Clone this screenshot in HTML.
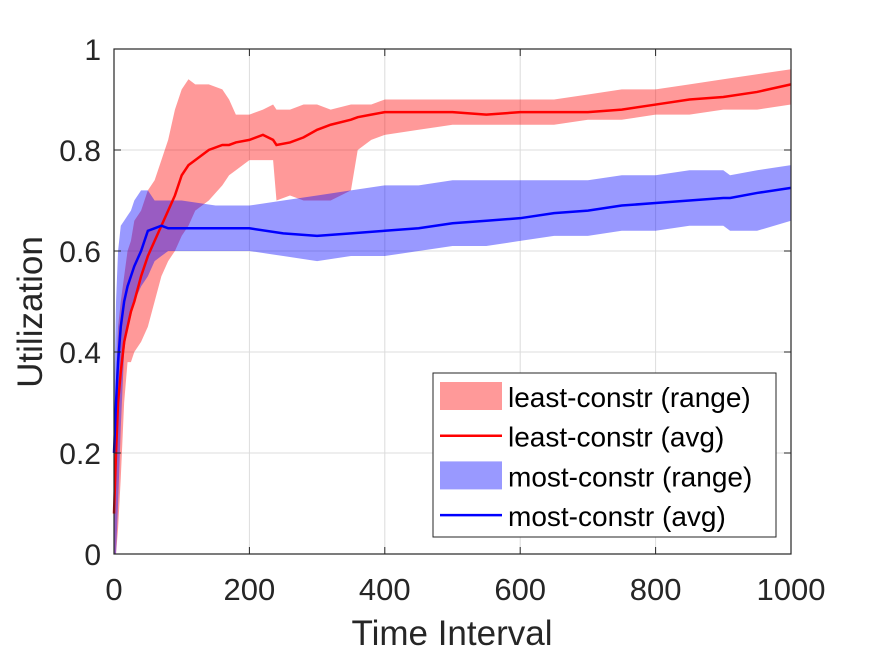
<!DOCTYPE html>
<html><head><meta charset="utf-8">
<style>
body{margin:0;background:#fff;}
svg{display:block;font-family:"Liberation Sans",sans-serif;}
</style></head>
<body>
<svg id="chart" width="875" height="656"></svg>
<script>
const tRed=[0,3,6,10,15,20,25,30,40,50,60,70,80,90,100,110,120,140,160,170,180,200,220,235,240,260,280,300,320,350,360,380,400,450,500,550,600,650,700,750,800,850,900,950,1000];
const redAvg=[0.08,0.2,0.3,0.36,0.42,0.45,0.48,0.5,0.55,0.59,0.62,0.65,0.68,0.71,0.75,0.77,0.78,0.8,0.81,0.81,0.815,0.82,0.83,0.82,0.81,0.815,0.825,0.84,0.85,0.86,0.865,0.87,0.875,0.875,0.875,0.87,0.875,0.875,0.875,0.88,0.89,0.9,0.905,0.915,0.93];
const redLo=[0,0,0.05,0.15,0.3,0.38,0.38,0.4,0.42,0.45,0.5,0.55,0.58,0.6,0.63,0.65,0.68,0.7,0.73,0.75,0.76,0.78,0.78,0.78,0.7,0.71,0.7,0.7,0.7,0.72,0.8,0.82,0.83,0.84,0.85,0.85,0.85,0.85,0.86,0.86,0.87,0.87,0.88,0.88,0.89];
const redHi=[0.2,0.35,0.45,0.5,0.55,0.6,0.62,0.66,0.68,0.72,0.74,0.78,0.82,0.88,0.92,0.94,0.93,0.93,0.92,0.9,0.87,0.87,0.88,0.89,0.88,0.88,0.89,0.89,0.88,0.89,0.89,0.89,0.9,0.9,0.9,0.9,0.9,0.9,0.91,0.92,0.92,0.93,0.94,0.95,0.96];
const tBlue=[0,3,6,10,15,20,25,30,40,50,60,70,80,100,150,200,250,300,350,400,450,500,550,600,650,700,750,800,850,900,910,950,1000];
const blueAvg=[0.2,0.3,0.38,0.45,0.5,0.53,0.55,0.57,0.6,0.64,0.645,0.65,0.645,0.645,0.645,0.645,0.635,0.63,0.635,0.64,0.645,0.655,0.66,0.665,0.675,0.68,0.69,0.695,0.7,0.705,0.705,0.715,0.725];
const blueLo=[0,0,0.1,0.25,0.4,0.45,0.47,0.5,0.53,0.55,0.58,0.59,0.6,0.6,0.6,0.6,0.59,0.58,0.59,0.59,0.6,0.61,0.61,0.62,0.63,0.63,0.64,0.64,0.65,0.65,0.64,0.64,0.66];
const blueHi=[0.3,0.5,0.6,0.65,0.66,0.67,0.68,0.7,0.72,0.72,0.7,0.7,0.7,0.7,0.69,0.69,0.7,0.71,0.72,0.73,0.73,0.74,0.74,0.74,0.74,0.74,0.75,0.75,0.76,0.76,0.75,0.76,0.77];
const xTicks=[0,200,400,600,800,1000];
const yTicks=[0,0.2,0.4,0.6,0.8,1];
const yTickLabels=["0","0.2","0.4","0.6","0.8","1"];

const X0=114,X1=791,Y0=554,Y1=49;
const xs=v=>X0+(X1-X0)*v/1000;
const ys=v=>Y0-(Y0-Y1)*v;
const NS="http://www.w3.org/2000/svg";
const svg=document.getElementById('chart');
function mk(tag,attrs,parent){const e=document.createElementNS(NS,tag);for(const k in attrs)e.setAttribute(k,attrs[k]);(parent||svg).appendChild(e);return e;}

const bg=mk('rect',{x:X0,y:Y1,width:X1-X0,height:Y0-Y1,fill:'#fff'});


xTicks.forEach(t=>{const l=mk('line',{x1:xs(t),x2:xs(t),y1:Y1,y2:Y0,stroke:'#dcdcdc','stroke-width':1});

});
yTicks.forEach(t=>{const l=mk('line',{x1:X0,x2:X1,y1:ys(t),y2:ys(t),stroke:'#dcdcdc','stroke-width':1});

});

function band(t,lo,hi,color,name){
  let d='M'+t.map((v,i)=>xs(v)+','+ys(hi[i])).join('L');
  for(let i=t.length-1;i>=0;i--)d+='L'+xs(t[i])+','+ys(lo[i]);
  const p=mk('path',{d:d+'Z',fill:color,'fill-opacity':0.4,stroke:'none'});
  
  
}
function line(t,v,color,name){
  const p=mk('path',{d:'M'+t.map((x,i)=>xs(x)+','+ys(v[i])).join('L'),fill:'none',stroke:color,'stroke-width':2.5});
  
  
}
band(tRed,redLo,redHi,'#ff0000','least-constr-range');
band(tBlue,blueLo,blueHi,'#0000ff','most-constr-range');
line(tRed,redAvg,'#ff0000','least-constr-avg-line');
line(tBlue,blueAvg,'#0000ff','most-constr-avg-line');

const fr=mk('rect',{x:X0,y:Y1,width:X1-X0,height:Y0-Y1,fill:'none',stroke:'#262626','stroke-width':1.2});


xTicks.forEach(t=>{
  mk('line',{x1:xs(t),x2:xs(t),y1:Y0,y2:Y0-7,stroke:'#262626'});
  mk('line',{x1:xs(t),x2:xs(t),y1:Y1,y2:Y1+7,stroke:'#262626'});
  const tx=mk('text',{x:xs(t),y:600,'text-anchor':'middle','font-size':31,fill:'#262626'});
  tx.textContent=String(t);
  
  
});
yTicks.forEach((t,i)=>{
  mk('line',{x1:X0,x2:X0+7,y1:ys(t),y2:ys(t),stroke:'#262626'});
  mk('line',{x1:X1,x2:X1-7,y1:ys(t),y2:ys(t),stroke:'#262626'});
  const tx=mk('text',{x:101,y:ys(t)+11,'text-anchor':'end','font-size':30,fill:'#262626'});
  tx.textContent=yTickLabels[i];
  
  
});
const xt=mk('text',{x:452,y:645,'text-anchor':'middle','font-size':35,fill:'#262626'});
xt.textContent='Time Interval';


const yt=mk('text',{x:0,y:0,'text-anchor':'middle','font-size':35,fill:'#262626',transform:'translate(42,312) rotate(-90)'});
yt.textContent='Utilization';



const lg=mk('g',{});


mk('rect',{x:433,y:373,width:343,height:164,fill:'#fff',stroke:'#262626','stroke-width':1},lg);
const entries=[['least-constr (range)','#ff0000','box'],['least-constr (avg)','#ff0000','line'],['most-constr (range)','#0000ff','box'],['most-constr (avg)','#0000ff','line']];
entries.forEach((e,i)=>{
  const cy=396+i*39.7;
  const g=mk('g',{},lg);
  
  
  if(e[2]==='box')mk('rect',{x:440,y:cy-14,width:62,height:28,fill:e[1],'fill-opacity':0.4},g);
  else mk('line',{x1:440,x2:502,y1:cy,y2:cy,stroke:e[1],'stroke-width':2.5},g);
  const tx=mk('text',{x:508,y:cy+11,'font-size':28,fill:'#000'},g);
  tx.textContent=e[0];
});
</script>
</body></html>
